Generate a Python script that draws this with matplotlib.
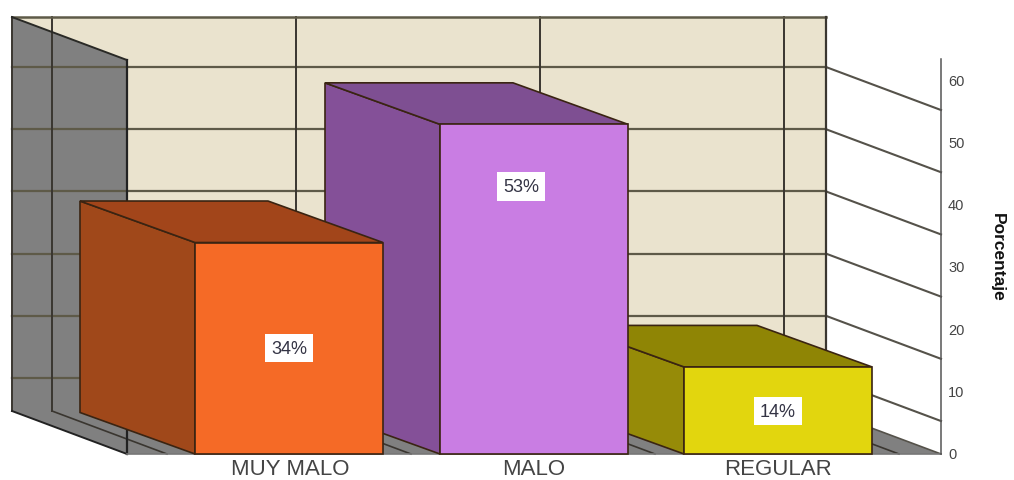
import matplotlib
matplotlib.use('Agg')
import matplotlib.pyplot as plt
from matplotlib.patches import Polygon

plt.rcParams['font.family'] = ['Liberation Sans', 'DejaVu Sans']

# datos
categorias = ['MUY MALO', 'MALO', 'REGULAR']
porcentajes = [34, 53, 14]
etiquetas = ['34%', '53%', '14%']
ticks_y = [0, 10, 20, 30, 40, 50, 60]

# colores de cada barra
frente = ['#F56A26', '#C97DE3', '#E2D60E']
lateral = ['#A0481A', '#845098', '#968B08']
arriba = ['#A2451A', '#7E4F92', '#8F8505']

# layout: x en pixeles, y en unidades de porcentaje
PX = 6.22
BASE = 455
DX, DY = 115, 43 / PX
DY_BARRA = 41.5 / PX
TECHO = 70.25
X_PARED, X_FIN = 12, 826
ancho = 188
x_barras = [195, 440, 684]
pos_etiqueta = [(289, 17), (521, 43), (778, 6.9)]
x_texto = [290, 534, 778]
verticales = [52, 296, 540, 784]
niveles = [5.3, 15.3, 25.3, 35.3, 45.3, 55.3]
C_LINEA = '#3a3630'

fig = plt.figure(figsize=(10.14, 4.81), dpi=100)
ax = fig.add_axes([0, 0, 1, 1])
ax.set_xlim(0, 1014)
ax.set_ylim(-(481 - BASE) / PX, BASE / PX)
ax.axis('off')


def poligono(puntos, color, z, borde='none', lw=0):
    ax.add_patch(Polygon(puntos, closed=True, facecolor=color, edgecolor=borde, linewidth=lw, zorder=z))


# pared del fondo, pared izquierda y piso
poligono([(X_PARED, DY), (X_FIN, DY), (X_FIN, TECHO), (X_PARED, TECHO)], '#EAE3CE', 1)
poligono([(X_PARED, DY), (X_PARED + DX, 0), (X_PARED + DX, TECHO - DY), (X_PARED, TECHO)], '#808080', 2)
poligono([(X_PARED, DY), (X_FIN, DY), (X_FIN + DX, 0), (X_PARED + DX, 0)], '#808080', 2)

# lineas de la grilla
for v in niveles:
    ax.plot([X_PARED, X_FIN], [v + DY, v + DY], color='#5e5a48', lw=1.6, zorder=3)
    ax.plot([X_FIN, X_FIN + DX], [v + DY, v], color='#55524a', lw=1.5, zorder=3)
for x in verticales:
    ax.plot([x, x], [DY, TECHO], color=C_LINEA, lw=1.4, zorder=3)
    ax.plot([x, x + DX], [DY, 0], color=C_LINEA, lw=1.2, zorder=3)
ax.plot([X_PARED, X_FIN], [TECHO, TECHO], color='#5e5a48', lw=1.8, zorder=3)
ax.plot([X_PARED, X_PARED], [DY, TECHO], color=C_LINEA, lw=1.4, zorder=3)
ax.plot([X_FIN, X_FIN], [DY, TECHO], color=C_LINEA, lw=1.6, zorder=3)
ax.plot([X_PARED, X_PARED + DX], [TECHO, TECHO - DY], color='#2a2a26', lw=1.4, zorder=3)
ax.plot([X_PARED + DX, X_PARED + DX], [0, TECHO - DY], color='#222222', lw=1.6, zorder=3)
ax.plot([X_PARED, X_PARED + DX], [DY, 0], color='#222222', lw=1.4, zorder=3)
ax.plot([X_FIN, X_FIN + DX], [DY, 0], color='#55524a', lw=1.2, zorder=3)
ax.plot([X_PARED + DX, X_FIN + DX], [0, 0], color='#777777', lw=1.2, zorder=3)

# eje de la derecha
ax.plot([X_FIN + DX, X_FIN + DX], [0, 63.5], color='#555555', lw=1.1, zorder=3)
for t in ticks_y:
    ax.text(948, t, str(t), fontsize=10.5, color='#444444', ha='left', va='center', zorder=6)
ax.text(997, 31.8, 'Porcentaje', fontsize=12.5, fontweight='bold', color='#111111',
        rotation=-90, ha='center', va='center', zorder=6)

# barras 3d, la de la izquierda queda por delante de las otras
for i, v in enumerate(porcentajes):
    x0 = x_barras[i]
    borde = '#3a2412'
    z = 10 - 2 * i
    poligono([(x0, 0), (x0 - DX, DY_BARRA), (x0 - DX, v + DY_BARRA), (x0, v)], lateral[i], z, borde, 1.2)
    poligono([(x0, v), (x0 - DX, v + DY_BARRA), (x0 - DX + ancho, v + DY_BARRA), (x0 + ancho, v)],
             arriba[i], z, borde, 1.2)
    ax.bar(x0, v, width=ancho, align='edge', color=frente[i], edgecolor=borde, linewidth=1.2, zorder=z + 1)
    ax.text(pos_etiqueta[i][0], pos_etiqueta[i][1], etiquetas[i], fontsize=13, color='#333344',
            ha='center', va='center', zorder=12,
            bbox=dict(facecolor='white', edgecolor='none', pad=4))
    ax.text(x_texto[i], -15 / PX, categorias[i], fontsize=16, color='#444444',
            ha='center', va='center', zorder=12)

fig.savefig('out.png', dpi=100)
